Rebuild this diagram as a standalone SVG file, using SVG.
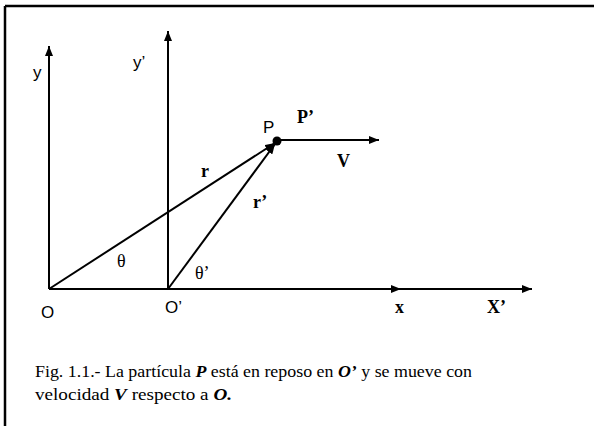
<svg xmlns="http://www.w3.org/2000/svg" width="594" height="426" viewBox="0 0 594 426">
<style>
.ax{stroke:#000;stroke-width:2;fill:none}
.sans{font-family:"Liberation Sans",Arial,sans-serif;font-size:17px;fill:#000}
.ser{font-family:"Liberation Serif","Times New Roman",serif;font-size:18px;font-weight:bold;fill:#000}
.th{font-family:"Liberation Serif","Times New Roman",serif;font-size:18px;fill:#000}
.cap{font-family:"Liberation Serif","Times New Roman",serif;font-size:16.5px;fill:#000}
.bi{font-weight:bold;font-style:italic}
</style>
<defs>
<marker id="ah" viewBox="0 0 10 8" refX="10" refY="4" markerWidth="10" markerHeight="8" markerUnits="userSpaceOnUse" orient="auto">
<path d="M0,0 L10,4 L0,8 Z" fill="#000"/>
</marker>
</defs>
<rect width="594" height="426" fill="#fff"/>
<g id="frame">
<line x1="5" y1="6" x2="594" y2="6" stroke="#000" stroke-width="2.5"/>
<line x1="5" y1="6" x2="5" y2="426" stroke="#000" stroke-width="2.5"/>
</g>
<g id="connectors">
<line class="ax" x1="49" y1="289" x2="49" y2="46" marker-end="url(#ah)"/>
<line class="ax" x1="168" y1="289" x2="168" y2="31" marker-end="url(#ah)"/>
<line class="ax" x1="49" y1="289" x2="401" y2="289" marker-end="url(#ah)"/>
<line class="ax" x1="401" y1="289" x2="532" y2="289" marker-end="url(#ah)"/>
<line class="ax" x1="49" y1="289" x2="275" y2="143" marker-end="url(#ah)"/>
<line class="ax" x1="168" y1="289" x2="275" y2="144" marker-end="url(#ah)"/>
<line class="ax" x1="277" y1="140" x2="379" y2="140" marker-end="url(#ah)"/>
</g>
<g id="point-P">
<circle cx="277" cy="141" r="4.5" fill="#000"/>
<text class="sans" x="263" y="133">P</text>
<text class="ser" x="297" y="123">P’</text>
</g>
<g id="label-V"><text class="ser" x="337" y="167">V</text></g>
<g id="label-r"><text class="ser" x="201" y="177">r</text></g>
<g id="label-r2"><text class="ser" x="253" y="208">r’</text></g>
<g id="label-theta"><text class="th" x="117" y="267">θ</text></g>
<g id="label-theta2"><text class="th" x="195" y="279">θ’</text></g>
<g id="axis-y"><text class="sans" x="33" y="78">y</text></g>
<g id="axis-y2"><text class="sans" x="133" y="68">y’</text></g>
<g id="origin-O"><text class="sans" x="41" y="318">O</text></g>
<g id="origin-O2"><text class="sans" x="165" y="313">O’</text></g>
<g id="axis-x"><text class="ser" x="395" y="313">x</text></g>
<g id="axis-x2"><text class="ser" x="487" y="313">X’</text></g>
<g id="caption">
<text class="cap" x="35" y="377" textLength="437" lengthAdjust="spacingAndGlyphs">Fig. 1.1.- La partícula <tspan class="bi">P</tspan> está en reposo en <tspan class="bi">O’</tspan> y se mueve con</text>
<text class="cap" x="35" y="400" textLength="197" lengthAdjust="spacingAndGlyphs">velocidad <tspan class="bi">V</tspan> respecto a <tspan class="bi">O.</tspan></text>
</g>
</svg>
